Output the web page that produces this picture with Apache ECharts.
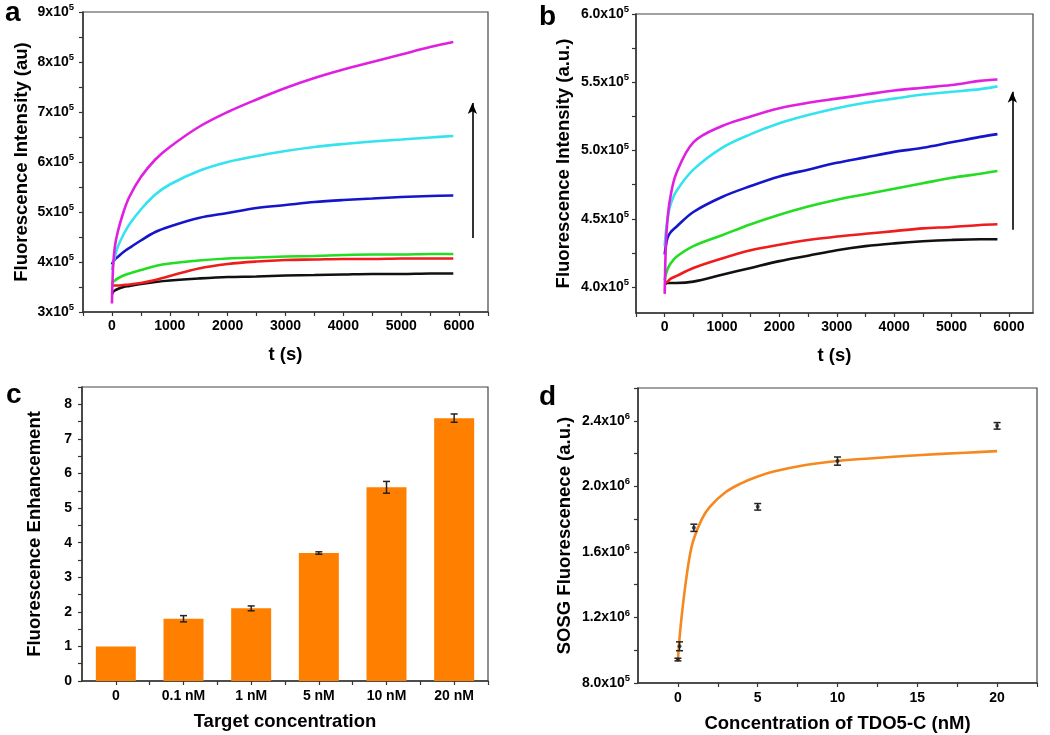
<!DOCTYPE html>
<html>
<head>
<meta charset="utf-8">
<script src="https://cdn.jsdelivr.net/npm/echarts@6/dist/echarts.min.js"></script>
<style>
  html, body { margin: 0; padding: 0; background: #fff; }
  #chart { width: 1050px; height: 735px; }
</style>
</head>
<body>
<div id="chart"></div>
<script>
// ---- panel a: intensity (x1e5) vs time ----
const tA = [0, 20, 50, 100, 200, 300, 500, 750, 1000, 1500, 2000, 2500, 3000, 3500, 4000, 4500, 5000, 5500, 5900];
const blackA   = [3.35, 3.40, 3.43, 3.46, 3.50, 3.52, 3.56, 3.60, 3.63, 3.67, 3.70, 3.71, 3.73, 3.74, 3.75, 3.76, 3.76, 3.77, 3.77];
const redA     = [3.53, 3.53, 3.53, 3.53, 3.54, 3.55, 3.58, 3.64, 3.72, 3.87, 3.96, 4.01, 4.04, 4.05, 4.06, 4.06, 4.07, 4.07, 4.07];
const greenA   = [3.55, 3.60, 3.63, 3.67, 3.73, 3.77, 3.84, 3.92, 3.97, 4.03, 4.07, 4.09, 4.11, 4.12, 4.14, 4.15, 4.15, 4.16, 4.16];
const blueA    = [3.95, 4.00, 4.05, 4.10, 4.20, 4.28, 4.43, 4.60, 4.71, 4.88, 4.98, 5.08, 5.14, 5.20, 5.24, 5.27, 5.30, 5.32, 5.33];
const cyanA    = [3.84, 3.95, 4.10, 4.30, 4.55, 4.75, 5.05, 5.35, 5.55, 5.82, 6.00, 6.12, 6.22, 6.30, 6.36, 6.41, 6.45, 6.49, 6.52];
const magentaA = [3.17, 3.90, 4.30, 4.60, 5.00, 5.30, 5.70, 6.05, 6.30, 6.70, 7.00, 7.25, 7.48, 7.68, 7.85, 8.00, 8.15, 8.30, 8.40];

// ---- panel b: intensity (x1e5) vs time ----
const tB = [0, 20, 50, 100, 200, 500, 1000, 1500, 2000, 2500, 3000, 3500, 4000, 4500, 5000, 5500, 5800];
const blackB   = [4.02, 4.025, 4.03, 4.03, 4.03, 4.04, 4.09, 4.14, 4.19, 4.23, 4.27, 4.30, 4.32, 4.335, 4.345, 4.35, 4.35];
const redB     = [4.03, 4.035, 4.04, 4.06, 4.08, 4.14, 4.21, 4.27, 4.31, 4.345, 4.37, 4.39, 4.41, 4.43, 4.44, 4.455, 4.46];
const greenB   = [4.05, 4.09, 4.13, 4.17, 4.22, 4.30, 4.38, 4.46, 4.53, 4.59, 4.64, 4.68, 4.72, 4.76, 4.80, 4.83, 4.85];
const blueB    = [4.24, 4.30, 4.36, 4.40, 4.44, 4.55, 4.66, 4.74, 4.81, 4.86, 4.91, 4.95, 4.99, 5.02, 5.06, 5.10, 5.12];
const cyanB    = [4.30, 4.40, 4.50, 4.60, 4.70, 4.86, 5.02, 5.12, 5.20, 5.26, 5.31, 5.35, 5.38, 5.41, 5.43, 5.45, 5.47];
const magentaB = [3.95, 4.30, 4.50, 4.66, 4.83, 5.06, 5.18, 5.25, 5.31, 5.35, 5.38, 5.41, 5.44, 5.46, 5.48, 5.51, 5.52];

// ---- panel c: bars ----
const concLabels = ['0', '0.1 nM', '1 nM', '5 nM', '10 nM', '20 nM'];
const enhancement = [1.0, 1.8, 2.1, 3.7, 5.6, 7.6];
const enhErr = [0, 0.09, 0.07, 0.035, 0.17, 0.12];

// ---- panel d: SOSG (x1e6) vs concentration ----
const concD = [0, 0.1, 1, 5, 10, 20];
const sosg = [0.943, 1.024, 1.747, 1.875, 2.154, 2.369];
const sosgErr = [0.008, 0.027, 0.022, 0.02, 0.025, 0.02];
const fitX = [0, 0.1, 0.25, 0.5, 0.75, 1, 1.5, 2, 3, 4, 5, 6, 8, 10, 12, 15, 18, 20];
const fitY = [0.94, 1.07, 1.22, 1.42, 1.58, 1.68, 1.80, 1.875, 1.965, 2.02, 2.06, 2.09, 2.13, 2.155, 2.17, 2.19, 2.205, 2.215];

const lineColors = { black: '#111111', red: '#ee1c1c', green: '#22dd22', blue: '#1515cc', cyan: '#33e3ee', magenta: '#e020e0' };
const FONT = '"Liberation Sans", Arial, sans-serif';

const myChart = echarts.init(document.getElementById('chart'));

function pairs(xs, ys) { return xs.map((x, i) => [x, ys[i]]); }

function curve(name, xs, ys, gi) {
    return {
        name: name, type: 'line', xAxisIndex: gi, yAxisIndex: gi,
        data: pairs(xs, ys), smooth: 0.35, showSymbol: false,
        lineStyle: { color: lineColors[name], width: 2.6 }, itemStyle: { color: lineColors[name] },
        z: 3
    };
}

const supRich = {
    m: { fontSize: 14, fontWeight: 'bold', fontFamily: FONT, color: '#000' },
    e: { fontSize: 9.5, fontWeight: 'bold', fontFamily: FONT, color: '#000', padding: [0, 0, 9, 0] }
};

function sciLabel(v) {
    let exp = Math.floor(Math.log10(v) + 1e-9);
    let mant = v / Math.pow(10, exp);
    return '{m|' + mant.toFixed(1) + 'x10}{e|' + exp + '}';
}

function range(a, b, step) {
    const out = [];
    for (let v = a; v <= b + 1e-9; v += step) out.push(Math.round(v * 1000) / 1000);
    return out;
}

function baseAxis(extra) {
    return Object.assign({
        type: 'value',
        splitLine: { show: false },
        axisLine: { show: true, onZero: false, lineStyle: { color: '#333', width: 1.5 } },
        nameLocation: 'middle',
        nameTextStyle: { color: '#000', fontWeight: 'bold', fontSize: 18.5, fontFamily: FONT }
    }, extra);
}

function ticks(values) {
    return { show: true, inside: false, length: 4, customValues: values, lineStyle: { color: '#333', width: 1.2 } };
}

function labels(values, margin, fmt, rich) {
    const l = { color: '#000', fontWeight: 'bold', fontSize: 14, fontFamily: FONT, margin: margin, customValues: values, formatter: fmt };
    if (rich) l.rich = rich;
    return l;
}

function errRender(params, api) {
    const x = api.value(0), lo = api.value(1), hi = api.value(2);
    const p1 = api.coord([x, lo]);
    const p2 = api.coord([x, hi]);
    const w = 3.5;
    const st = { stroke: '#222', lineWidth: 1.5 };
    return {
        type: 'group', children: [
            { type: 'line', shape: { x1: p1[0], y1: p1[1], x2: p2[0], y2: p2[1] }, style: st },
            { type: 'line', shape: { x1: p1[0] - w, y1: p1[1], x2: p1[0] + w, y2: p1[1] }, style: st },
            { type: 'line', shape: { x1: p2[0] - w, y1: p2[1], x2: p2[0] + w, y2: p2[1] }, style: st }
        ]
    };
}

const gridStyle = { show: true, borderColor: '#444', borderWidth: 1.2, backgroundColor: 'transparent', containLabel: false };

function arrowLine(x, y1, y2) {
    return {
        silent: true, symbol: ['none', 'arrow'], symbolSize: [7, 11],
        lineStyle: { color: '#000', width: 1.6, type: 'solid' },
        label: { show: false },
        data: [[{ coord: [x, y1] }, { coord: [x, y2] }]]
    };
}

const names = ['black', 'red', 'green', 'blue', 'cyan', 'magenta'];
const dataA = { black: blackA, red: redA, green: greenA, blue: blueA, cyan: cyanA, magenta: magentaA };
const dataB = { black: blackB, red: redB, green: greenB, blue: blueB, cyan: cyanB, magenta: magentaB };

const series = [];
names.forEach(n => series.push(curve(n, tA, dataA[n], 0)));
series[0].markLine = arrowLine(6230, 4.48, 7.18);
names.forEach(n => series.push(curve(n, tB, dataB[n], 1)));
series[6].markLine = arrowLine(6060, 4.42, 5.43);

series.push({
    type: 'bar', xAxisIndex: 2, yAxisIndex: 2,
    data: pairs([0, 1, 2, 3, 4, 5], enhancement),
    barWidth: 40, itemStyle: { color: '#ff8000' }
});
series.push({
    type: 'custom', xAxisIndex: 2, yAxisIndex: 2,
    renderItem: errRender, encode: { x: 0, y: [1, 2] },
    data: enhancement.map((v, i) => [i, v - enhErr[i], v + enhErr[i]]).filter((d, i) => enhErr[i] > 0),
    z: 5
});

series.push({
    type: 'line', xAxisIndex: 3, yAxisIndex: 3,
    data: pairs(fitX, fitY), smooth: 0.35, showSymbol: false,
    lineStyle: { color: '#f5881f', width: 2.6 }, z: 2
});
series.push({
    type: 'custom', xAxisIndex: 3, yAxisIndex: 3,
    renderItem: errRender, encode: { x: 0, y: [1, 2] },
    data: sosg.map((v, i) => [concD[i], v - sosgErr[i], v + sosgErr[i]]), z: 4
});
series.push({
    type: 'scatter', xAxisIndex: 3, yAxisIndex: 3,
    data: pairs(concD, sosg), symbol: 'circle', symbolSize: 4,
    itemStyle: { color: '#222' }, z: 5
});

const plain = v => String(v);

myChart.setOption({
    backgroundColor: '#ffffff',
    animation: false,
    grid: [
        Object.assign({ left: 83, top: 12, width: 405, height: 300 }, gridStyle),
        Object.assign({ left: 636, top: 14, width: 397, height: 299 }, gridStyle),
        Object.assign({ left: 82, top: 387, width: 406, height: 294 }, gridStyle),
        Object.assign({ left: 638, top: 388, width: 399, height: 295 }, gridStyle)
    ],
    xAxis: [
        baseAxis({
            gridIndex: 0, min: -500, max: 6500, name: 't (s)', nameGap: 33,
            axisTick: ticks(range(-500, 6500, 500)),
            axisLabel: labels(range(0, 6000, 1000), 7, plain)
        }),
        baseAxis({
            gridIndex: 1, min: -500, max: 6420, name: 't (s)', nameGap: 33,
            axisTick: ticks(range(-500, 6000, 500)),
            axisLabel: labels(range(0, 6000, 1000), 7, plain)
        }),
        baseAxis({
            gridIndex: 2, min: -0.5, max: 5.5, name: 'Target concentration', nameGap: 31,
            axisTick: ticks(range(0, 5.5, 0.5)),
            axisLabel: labels([0, 1, 2, 3, 4, 5], 8, v => concLabels[Math.round(v)])
        }),
        baseAxis({
            gridIndex: 3, min: -2.5, max: 22.5, name: 'Concentration of TDO5-C (nM)', nameGap: 31,
            axisTick: ticks(range(0, 22.5, 2.5)),
            axisLabel: labels([0, 5, 10, 15, 20], 8, plain)
        })
    ],
    yAxis: [
        baseAxis({
            gridIndex: 0, min: 3, max: 9, name: 'Fluorescence Intensity (au)', nameGap: 52,
            axisTick: ticks(range(3, 9, 0.5)),
            axisLabel: labels([3, 4, 5, 6, 7, 8, 9], 9, v => '{m|' + v + 'x10}{e|5}', supRich)
        }),
        baseAxis({
            gridIndex: 1, min: 3.81, max: 6.0, name: 'Fluorescence Intensity (a.u.)', nameGap: 63,
            axisTick: ticks(range(4, 6, 0.25)),
            axisLabel: labels([4, 4.5, 5, 5.5, 6], 7, v => '{m|' + v.toFixed(1) + 'x10}{e|5}', supRich)
        }),
        baseAxis({
            gridIndex: 2, min: 0, max: 8.5, name: 'Fluorescence Enhancement', nameGap: 38,
            axisTick: ticks(range(0, 8.5, 0.5)),
            axisLabel: labels([0, 1, 2, 3, 4, 5, 6, 7, 8], 10, plain)
        }),
        baseAxis({
            gridIndex: 3, min: 0.8, max: 2.6, name: 'SOSG Fluorescenece (a.u.)', nameGap: 64,
            axisTick: ticks(range(0.8, 2.6, 0.2)),
            axisLabel: labels([0.8, 1.2, 1.6, 2.0, 2.4], 8, v => sciLabel(v * 1e6), supRich)
        })
    ],
    graphic: [
        { type: 'text', style: { x: 5, y: 27, text: 'a', font: 'bold 28px ' + FONT, fill: '#000', verticalAlign: 'bottom' } },
        { type: 'text', style: { x: 539, y: 31, text: 'b', font: 'bold 28px ' + FONT, fill: '#000', verticalAlign: 'bottom' } },
        { type: 'text', style: { x: 6, y: 409, text: 'c', font: 'bold 28px ' + FONT, fill: '#000', verticalAlign: 'bottom' } },
        { type: 'text', style: { x: 539, y: 411, text: 'd', font: 'bold 28px ' + FONT, fill: '#000', verticalAlign: 'bottom' } }
    ],
    series: series
});
</script>
</body>
</html>
